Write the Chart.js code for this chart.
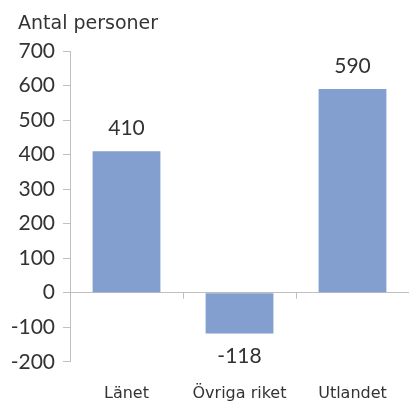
<!DOCTYPE html>
<html>
<head>
<meta charset="utf-8">
<script src="https://cdn.jsdelivr.net/npm/chart.js@4.4.0/dist/chart.umd.min.js"></script>
<style>
  html, body { margin: 0; padding: 0; background: #fff; }
  #wrap { width: 409px; height: 403px; position: relative; }
</style>
</head>
<body>
<div id="wrap"><canvas id="chart" width="409" height="403"></canvas></div>
<script>
const categories = ['Länet', 'Övriga riket', 'Utlandet'];
const values = [410, -118, 590];
const yTicks = [-200, -100, 0, 100, 200, 300, 400, 500, 600, 700];
const yTitle = 'Antal personer';

const NUM_FONT = 'Lato, "Open Sans", sans-serif';
const TXT_FONT = '"DejaVu Sans", sans-serif';
const GRAY = '#bfbfbf';
const TEXT = '#333';

// value labels above / below the bars
const valueLabels = {
  id: 'valueLabels',
  afterDraw(chart) {
    const ctx = chart.ctx;
    const meta = chart.getDatasetMeta(0);
    ctx.save();
    ctx.font = '21px ' + NUM_FONT;
    ctx.fillStyle = TEXT;
    ctx.textAlign = 'center';
    meta.data.forEach((bar, i) => {
      const v = values[i];
      if (v >= 0) {
        ctx.textBaseline = 'bottom';
        ctx.fillText(String(v), bar.x, bar.y - 12);
      } else {
        ctx.textBaseline = 'top';
        ctx.fillText(String(v), bar.x, bar.y + 12);
      }
    });
    ctx.restore();
  }
};

// axis title + small category dividers on the zero line
const extras = {
  id: 'extras',
  afterDraw(chart) {
    const ctx = chart.ctx;
    const x = chart.scales.x, y = chart.scales.y;
    const y0 = y.getPixelForValue(0);
    ctx.save();
    ctx.strokeStyle = GRAY;
    ctx.lineWidth = 1;
    for (let i = 0; i < categories.length - 1; i++) {
      const px = Math.round((x.getPixelForValue(i) + x.getPixelForValue(i + 1)) / 2) + 0.5;
      ctx.beginPath();
      ctx.moveTo(px, y0);
      ctx.lineTo(px, y0 + 6);
      ctx.stroke();
    }
    ctx.font = '19px ' + TXT_FONT;
    ctx.fillStyle = TEXT;
    ctx.textAlign = 'left';
    ctx.textBaseline = 'middle';
    ctx.fillText(yTitle, 18, 24);
    ctx.restore();
  }
};

new Chart(document.getElementById('chart'), {
  type: 'bar',
  data: {
    labels: categories,
    datasets: [{
      data: values,
      backgroundColor: '#829fcf',
      categoryPercentage: 1,
      barPercentage: 0.6
    }]
  },
  options: {
    responsive: false,
    animation: false,
    layout: { padding: { top: 51, right: -7, left: 0, bottom: -14 } },
    plugins: { legend: { display: false }, tooltip: { enabled: false } },
    scales: {
      x: {
        grid: { display: false },
        border: { display: false },
        ticks: { color: TEXT, font: { family: TXT_FONT, size: 16 }, padding: 14 }
      },
      y: {
        min: -200,
        max: 700,
        z: 1,
        afterBuildTicks(axis) { axis.ticks = yTicks.map(v => ({ value: v })); },
        afterFit(axis) { axis.width = 70; },
        grid: {
          color: c => (c.tick && c.tick.value === 0 ? 'rgba(0,0,0,0.25)' : 'rgba(0,0,0,0)'),
          tickColor: GRAY,
          tickLength: 7,
          drawTicks: true
        },
        border: { display: true, color: GRAY },
        ticks: { color: TEXT, font: { family: NUM_FONT, size: 21 }, padding: 8 }
      }
    }
  },
  plugins: [valueLabels, extras]
});
</script>
</body>
</html>
